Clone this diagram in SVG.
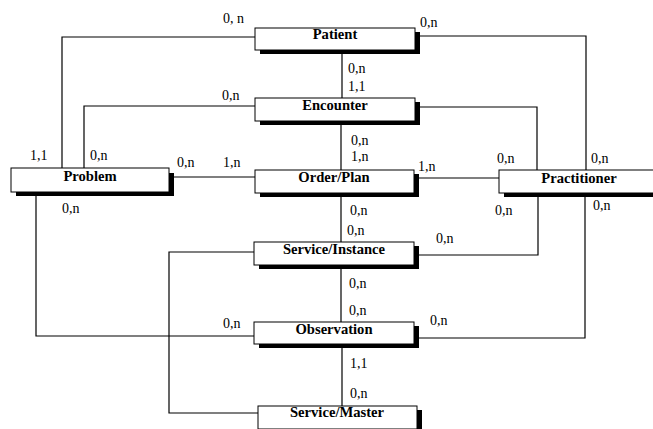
<svg xmlns="http://www.w3.org/2000/svg" width="653" height="429" viewBox="0 0 653 429">
<style>
.c{fill:none;stroke:#000;stroke-width:1.2}
.sh{fill:#000}
.bx{fill:#fff;stroke:#000;stroke-width:1}
.nt{font-family:'Liberation Serif','DejaVu Serif',serif;font-weight:bold;font-size:14.6px;text-anchor:middle;fill:#000}
.lb{font-family:'Liberation Serif','DejaVu Serif',serif;font-size:14px;fill:#000}
</style>
<rect width="653" height="429" fill="#fff"/>
<g id="connectors">
<path class="c" d="M255,37 H62 V168"/>
<path class="c" d="M415,36 H586 V170"/>
<path class="c" d="M342,50 V98"/>
<path class="c" d="M255,106 H84 V168"/>
<path class="c" d="M415,107 H537 V170"/>
<path class="c" d="M341,121 V170"/>
<path class="c" d="M169,177 H255"/>
<path class="c" d="M414,178 H499"/>
<path class="c" d="M36,192 V336 H254"/>
<path class="c" d="M341,193 V242"/>
<path class="c" d="M538,193 V255 H414"/>
<path class="c" d="M585,193 V338 H414"/>
<path class="c" d="M254,252 H169 V413 H258"/>
<path class="c" d="M341,265 V322"/>
<path class="c" d="M342,344 V406"/>
</g>
<g id="labels">
<text class="lb" x="223" y="23">0, n</text>
<text class="lb" x="420" y="27">0,n</text>
<text class="lb" x="348" y="73">0,n</text>
<text class="lb" x="348" y="91">1,1</text>
<text class="lb" x="222" y="100">0,n</text>
<text class="lb" x="30" y="160">1,1</text>
<text class="lb" x="90" y="160">0,n</text>
<text class="lb" x="177" y="167">0,n</text>
<text class="lb" x="223" y="167">1,n</text>
<text class="lb" x="351" y="145">0,n</text>
<text class="lb" x="351" y="161">1,n</text>
<text class="lb" x="418" y="171">1,n</text>
<text class="lb" x="497" y="163">0,n</text>
<text class="lb" x="591" y="163">0,n</text>
<text class="lb" x="62" y="213">0,n</text>
<text class="lb" x="350" y="215">0,n</text>
<text class="lb" x="495" y="215">0,n</text>
<text class="lb" x="593" y="210">0,n</text>
<text class="lb" x="347" y="235">0,n</text>
<text class="lb" x="436" y="243">0,n</text>
<text class="lb" x="349" y="288">0,n</text>
<text class="lb" x="349" y="315">0,n</text>
<text class="lb" x="430" y="325">0,n</text>
<text class="lb" x="223" y="328">0,n</text>
<text class="lb" x="350" y="368">1,1</text>
<text class="lb" x="350" y="398">0,n</text>
</g>
<g id="patient">
<rect class="sh" x="260" y="32" width="160" height="22"/>
<rect class="bx" x="255" y="28" width="160" height="22"/>
<text class="nt" x="335" y="39">Patient</text>
</g>
<g id="encounter">
<rect class="sh" x="260" y="102" width="160" height="23"/>
<rect class="bx" x="255" y="98" width="160" height="23"/>
<text class="nt" x="335" y="110">Encounter</text>
</g>
<g id="problem">
<rect class="sh" x="16" y="173" width="158" height="23"/>
<rect class="bx" x="11" y="168" width="158" height="24"/>
<text class="nt" x="90" y="181">Problem</text>
</g>
<g id="orderplan">
<rect class="sh" x="260" y="174" width="159" height="23"/>
<rect class="bx" x="255" y="170" width="159" height="23"/>
<text class="nt" x="334" y="182">Order/Plan</text>
</g>
<g id="practitioner">
<rect class="sh" x="504" y="174" width="160" height="23"/>
<rect class="bx" x="499" y="170" width="160" height="23"/>
<text class="nt" x="579" y="183">Practitioner</text>
</g>
<g id="serviceinstance">
<rect class="sh" x="259" y="246" width="160" height="23"/>
<rect class="bx" x="254" y="242" width="160" height="23"/>
<text class="nt" x="334" y="254">Service/Instance</text>
</g>
<g id="observation">
<rect class="sh" x="259" y="326" width="160" height="22"/>
<rect class="bx" x="254" y="322" width="160" height="22"/>
<text class="nt" x="334" y="334">Observation</text>
</g>
<g id="servicemaster">
<rect class="sh" x="263" y="410" width="159" height="23"/>
<rect class="bx" x="258" y="406" width="159" height="23"/>
<text class="nt" x="337" y="417">Service/Master</text>
</g>
</svg>
